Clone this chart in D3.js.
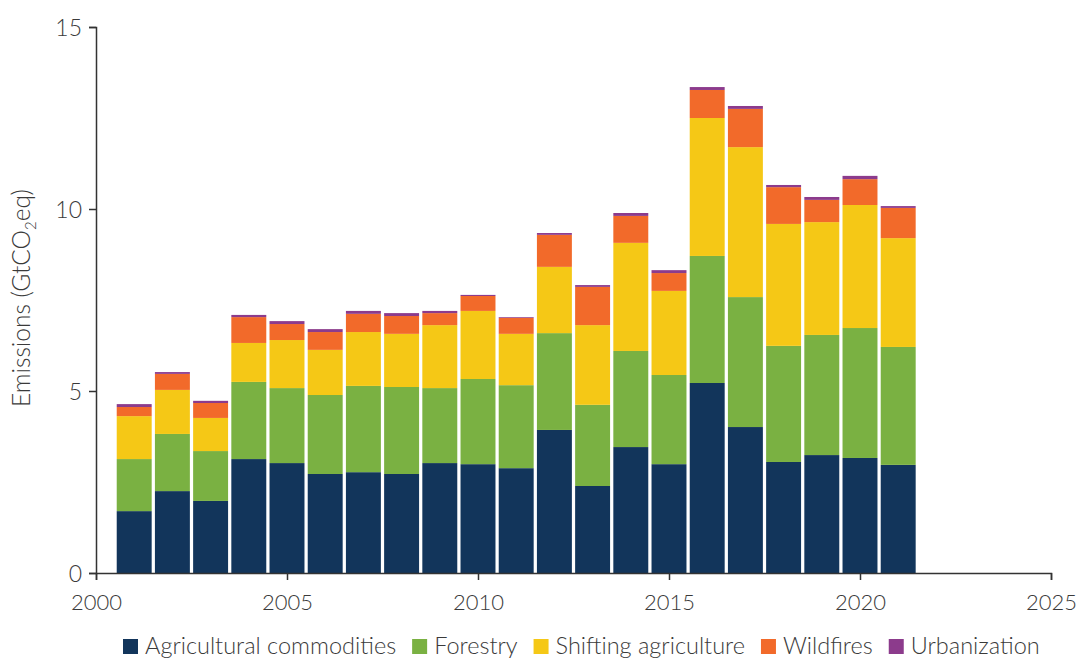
<!DOCTYPE html>
<html>
<head>
<meta charset="utf-8">
<script src="https://cdn.jsdelivr.net/npm/d3@7"></script>
<style>
  body { margin: 0; background: #fff; }
  svg text { font-family: Lato, "Open Sans", sans-serif; font-weight: 300; fill: #3a3a3a; }
</style>
</head>
<body>
<svg id="chart" width="1076" height="658"></svg>
<script>
// data (GtCO2eq)
const years = [2001, 2002, 2003, 2004, 2005, 2006, 2007, 2008, 2009, 2010, 2011,
  2012, 2013, 2014, 2015, 2016, 2017, 2018, 2019, 2020, 2021];
const agricultural = [1.70, 2.25, 1.98, 3.13, 3.02, 2.72, 2.77, 2.72, 3.02, 2.99, 2.88,
  3.93, 2.39, 3.46, 2.99, 5.22, 4.01, 3.05, 3.24, 3.16, 2.97];
const forestry = [1.43, 1.57, 1.37, 2.12, 2.06, 2.17, 2.37, 2.39, 2.06, 2.34, 2.28,
  2.66, 2.23, 2.64, 2.45, 3.49, 3.57, 3.19, 3.30, 3.57, 3.24];
const shifting = [1.18, 1.21, 0.91, 1.07, 1.32, 1.24, 1.48, 1.46, 1.73, 1.87, 1.41,
  1.82, 2.19, 2.97, 2.31, 3.79, 4.12, 3.35, 3.10, 3.38, 2.99];
const wildfires = [0.25, 0.44, 0.41, 0.71, 0.44, 0.49, 0.50, 0.49, 0.33, 0.41, 0.44,
  0.88, 1.05, 0.74, 0.49, 0.77, 1.05, 1.01, 0.61, 0.71, 0.83];
const urbanization = [0.08, 0.05, 0.06, 0.06, 0.08, 0.08, 0.08, 0.08, 0.06, 0.03, 0.02,
  0.05, 0.05, 0.08, 0.08, 0.08, 0.08, 0.06, 0.08, 0.09, 0.05];

const seriesNames = ["Agricultural commodities", "Forestry", "Shifting agriculture", "Wildfires", "Urbanization"];
const seriesColors = ["#12355b", "#7ab142", "#f5c816", "#f26a2a", "#8c3b8c"];
const xTicks = [2000, 2005, 2010, 2015, 2020, 2025];
const yTicks = [0, 5, 10, 15];

const keys = ["agri", "forest", "shift", "wild", "urban"];
const rows = years.map((yr, i) => ({
  year: yr,
  agri: agricultural[i],
  forest: forestry[i],
  shift: shifting[i],
  wild: wildfires[i],
  urban: urbanization[i]
}));

const svg = d3.select("#chart");
const plotLeft = 96, plotRight = 1051, plotTop = 27, plotBottom = 573;

const x = d3.scaleLinear().domain([2000, 2025]).range([plotLeft, plotRight]);
const y = d3.scaleLinear().domain([0, 15]).range([plotBottom, plotTop]);
const color = d3.scaleOrdinal().domain(keys).range(seriesColors);

const step = x(2001) - x(2000);
const barW = step * 0.915;

const stacked = d3.stack().keys(keys)(rows);

svg.append("g")
  .selectAll("g")
  .data(stacked)
  .join("g")
  .attr("fill", d => color(d.key))
  .selectAll("rect")
  .data(d => d)
  .join("rect")
  .attr("x", d => x(d.data.year) - barW / 2)
  .attr("width", barW)
  .attr("y", d => y(d[1]))
  .attr("height", d => y(d[0]) - y(d[1]));

// axes
const xAxis = svg.append("g")
  .attr("transform", `translate(0,${plotBottom})`)
  .call(d3.axisBottom(x).tickValues(xTicks).tickFormat(d3.format("d")).tickSizeOuter(0).tickSize(7).tickPadding(14));
const yAxis = svg.append("g")
  .attr("transform", `translate(${plotLeft},0)`)
  .call(d3.axisLeft(y).tickValues(yTicks).tickSizeOuter(0).tickSize(7).tickPadding(7));

[xAxis, yAxis].forEach(a => {
  a.select(".domain").attr("stroke", "#333").attr("stroke-width", 1.5);
  a.selectAll(".tick line").attr("stroke", "#333").attr("stroke-width", 1.5);
  a.selectAll(".tick text").style("font-size", "23px").attr("fill", "#3a3a3a");
});
xAxis.selectAll(".tick text").style("font-size", "22px");
yAxis.selectAll(".tick text").attr("dy", "0.35em");

// y title with subscript
const title = svg.append("text")
  .attr("transform", `translate(30,${(plotTop + plotBottom) / 2 - 2}) rotate(-90)`)
  .attr("text-anchor", "middle")
  .style("font-size", "24.5px");
title.append("tspan").text("Emissions (GtCO");
title.append("tspan").text("2").attr("dy", 6).style("font-size", "15px");
title.append("tspan").text("eq)").attr("dy", -6);

// legend
const legend = svg.append("g").attr("transform", "translate(123,646)");
let lx = 0;
seriesNames.forEach((name, i) => {
  const item = legend.append("g").attr("transform", `translate(${lx},0)`);
  item.append("rect").attr("x", 0).attr("y", -7).attr("width", 15).attr("height", 15).attr("fill", seriesColors[i]);
  const t = item.append("text").attr("x", 22).attr("y", 0).attr("dy", "0.35em")
    .style("font-size", "23.5px").text(name);
  lx += 22 + t.node().getComputedTextLength() + 16;
});
</script>
</body>
</html>
